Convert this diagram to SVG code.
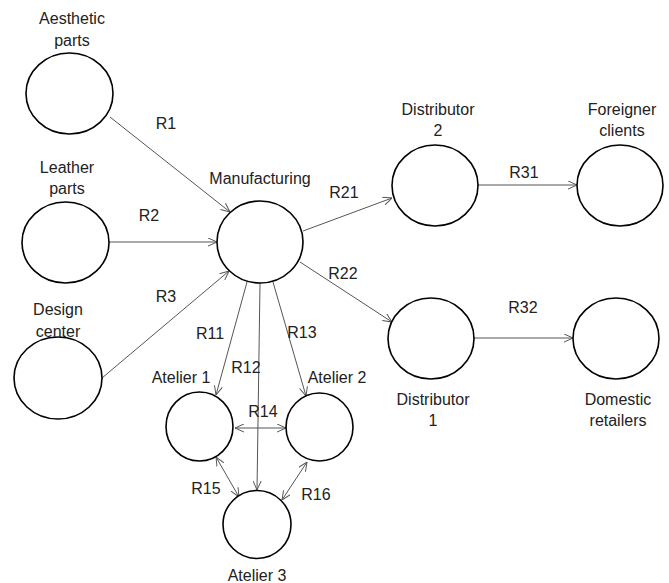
<svg xmlns="http://www.w3.org/2000/svg" width="669" height="583" viewBox="0 0 669 583">
<defs>
<style>
.node ellipse{fill:#fff;stroke:#000;stroke-width:1.6}
text{font-family:"Liberation Sans",Arial,sans-serif;font-size:16px;fill:#222;text-anchor:middle}
.conn line{stroke:#555;stroke-width:1}
</style>
<marker id="ah" viewBox="0 0 10 10" refX="10" refY="5" markerWidth="9" markerHeight="9" markerUnits="userSpaceOnUse" orient="auto-start-reverse">
<path d="M0,0.5 L10,5 L0,9.5" fill="none" stroke="#555" stroke-width="1.1"/>
</marker>
</defs>
<rect width="669" height="583" fill="#fff"/>
<g class="conn">
<line x1="110" y1="117" x2="230" y2="212" marker-end="url(#ah)"/>
<line x1="109" y1="242" x2="217" y2="242" marker-end="url(#ah)"/>
<line x1="102" y1="378" x2="229" y2="271" marker-end="url(#ah)"/>
<line x1="303" y1="231" x2="392" y2="198" marker-end="url(#ah)"/>
<line x1="300" y1="262" x2="392" y2="322" marker-end="url(#ah)"/>
<line x1="478" y1="185" x2="577" y2="185" marker-end="url(#ah)"/>
<line x1="474" y1="338" x2="573" y2="338" marker-end="url(#ah)"/>
<line x1="247" y1="282" x2="216" y2="395" marker-end="url(#ah)"/>
<line x1="260" y1="283" x2="257" y2="490" marker-end="url(#ah)"/>
<line x1="273" y1="282" x2="306" y2="396" marker-end="url(#ah)"/>
<line x1="235" y1="428" x2="286" y2="428" marker-start="url(#ah)" marker-end="url(#ah)"/>
<line x1="216" y1="457" x2="239" y2="497" marker-start="url(#ah)" marker-end="url(#ah)"/>
<line x1="307" y1="462" x2="282" y2="500" marker-start="url(#ah)" marker-end="url(#ah)"/>
</g>
<g id="aesthetic" class="node"><ellipse cx="69.5" cy="93.5" rx="43.5" ry="40.5"/><text x="72" y="24">Aesthetic</text><text x="72" y="46">parts</text></g>
<g id="leather" class="node"><ellipse cx="65.5" cy="242.5" rx="43.5" ry="40.5"/><text x="67" y="173">Leather</text><text x="67" y="194">parts</text></g>
<g id="design" class="node"><ellipse cx="58" cy="378" rx="44" ry="41"/><text x="58" y="315">Design</text><text x="58" y="337">center</text></g>
<g id="manufacturing" class="node"><ellipse cx="260" cy="242" rx="43" ry="41"/><text x="260" y="184">Manufacturing</text></g>
<g id="distributor2" class="node"><ellipse cx="435" cy="185.5" rx="43" ry="40.5"/><text x="438" y="115">Distributor</text><text x="438" y="136">2</text></g>
<g id="foreigner" class="node"><ellipse cx="620" cy="185.5" rx="43" ry="40.5"/><text x="622" y="115">Foreigner</text><text x="622" y="136">clients</text></g>
<g id="distributor1" class="node"><ellipse cx="431" cy="338.5" rx="43" ry="40.5"/><text x="433" y="405">Distributor</text><text x="433" y="426">1</text></g>
<g id="domestic" class="node"><ellipse cx="616" cy="338.5" rx="43" ry="40.5"/><text x="618" y="405">Domestic</text><text x="618" y="426">retailers</text></g>
<g id="atelier1" class="node"><ellipse cx="199.5" cy="426.5" rx="33.5" ry="34.5"/><text x="181" y="383">Atelier 1</text></g>
<g id="atelier2" class="node"><ellipse cx="319.5" cy="427" rx="33.5" ry="34"/><text x="337" y="383">Atelier 2</text></g>
<g id="atelier3" class="node"><ellipse cx="257" cy="524.5" rx="34" ry="34"/><text x="257" y="581">Atelier 3</text></g>
<g id="labels">
<text x="166" y="129">R1</text>
<text x="149" y="221">R2</text>
<text x="166" y="302">R3</text>
<text x="344" y="198">R21</text>
<text x="343" y="279">R22</text>
<text x="524" y="178">R31</text>
<text x="523" y="313">R32</text>
<text x="210" y="339">R11</text>
<text x="246" y="373">R12</text>
<text x="302" y="338">R13</text>
<text x="263" y="417">R14</text>
<text x="206" y="494">R15</text>
<text x="316" y="500">R16</text>
</g>
</svg>
